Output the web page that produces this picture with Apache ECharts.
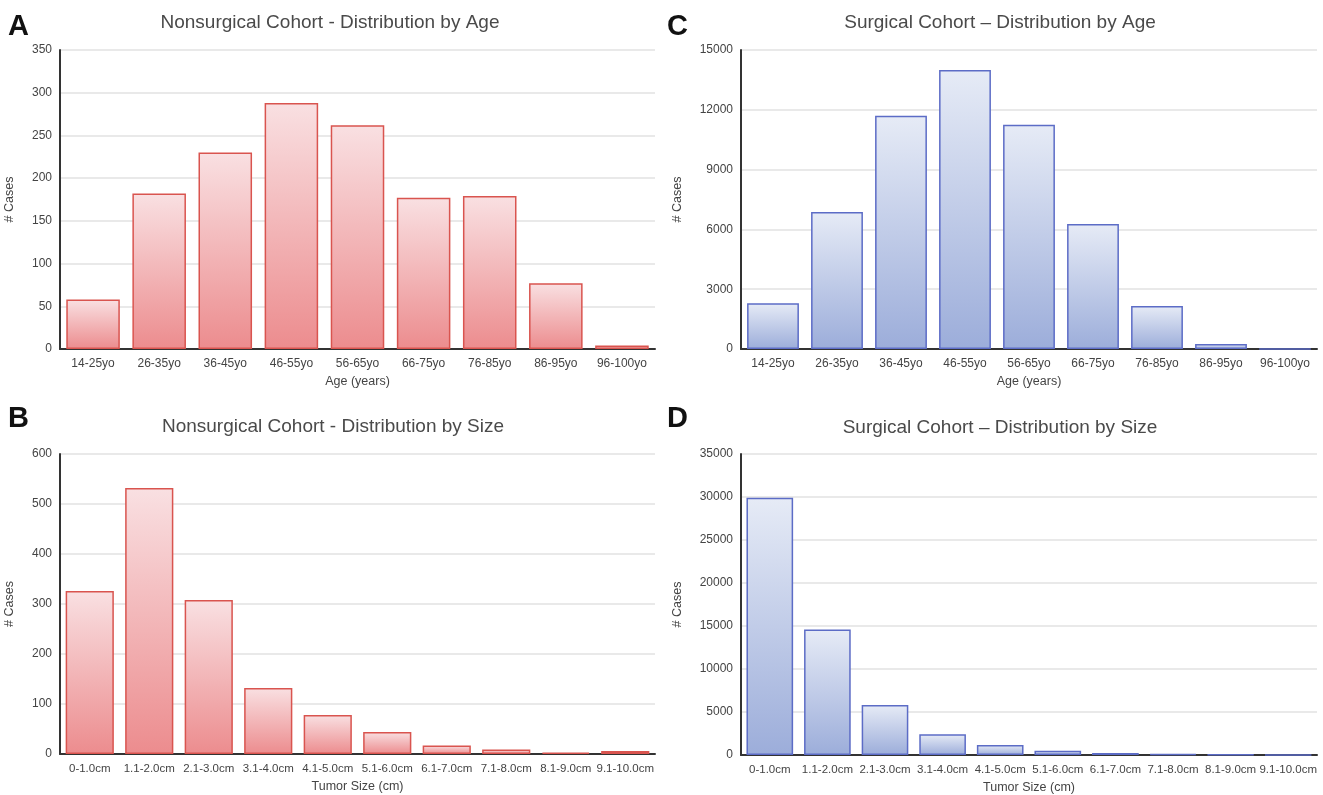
<!DOCTYPE html>
<html><head><meta charset="utf-8">
<script src="https://cdn.jsdelivr.net/npm/echarts@6/dist/echarts.min.js"></script>
<style>html,body{margin:0;padding:0;background:#fff}#c{width:1323px;height:795px}</style>
</head><body><div id="c"></div>
<script>
const ageCategories = ['14-25yo','26-35yo','36-45yo','46-55yo','56-65yo','66-75yo','76-85yo','86-95yo','96-100yo'];
const sizeCategories = ['0-1.0cm','1.1-2.0cm','2.1-3.0cm','3.1-4.0cm','4.1-5.0cm','5.1-6.0cm','6.1-7.0cm','7.1-8.0cm','8.1-9.0cm','9.1-10.0cm'];
const nonsurgicalAge = [58, 182, 230, 288, 262, 177, 179, 77, 4];
const surgicalAge = [2300, 6870, 11700, 14000, 11250, 6270, 2160, 250, 10];
const nonsurgicalSize = [326, 532, 308, 132, 78, 44, 17, 9, 3, 6];
const surgicalSize = [29900, 14600, 5800, 2400, 1150, 480, 230, 100, 40, 25];
const panelTitles = ['Nonsurgical Cohort - Distribution by Age','Surgical Cohort \u2013 Distribution by Age','Nonsurgical Cohort - Distribution by Size','Surgical Cohort \u2013 Distribution by Size'];
const panelLetters = ['A','C','B','D'];

const FONT = '"Liberation Sans", Arial, sans-serif';
const red = {top:'#f9e0e2', bottom:'#ec8c8e', border:'#d9544f'};
const blue = {top:'#e6ebf6', bottom:'#9cadda', border:'#5c6cc6'};

const grids = [
  {left:60, right:668, top:50, bottom:446},
  {left:741, right:6, top:50, bottom:446},
  {left:60, right:668, top:454, bottom:41},
  {left:741, right:6, top:454, bottom:40}
];
const yMax = [350, 15000, 600, 35000];
const yInt = [50, 3000, 100, 5000];
const cats = [ageCategories, ageCategories, sizeCategories, sizeCategories];
const vals = [nonsurgicalAge, surgicalAge, nonsurgicalSize, surgicalSize];
const xNames = ['Age (years)','Age (years)','Tumor Size (cm)','Tumor Size (cm)'];
const pal = [red, blue, red, blue];
const titlePos = [{x:325,y:8},{x:995,y:8},{x:328,y:412},{x:995,y:413}];
const letterPos = [{x:8,y:12},{x:667,y:12},{x:8,y:404},{x:667,y:404}];
const yNameGap = [44, 57, 44, 57];

const option = {
  backgroundColor:'#fff',
  animation:false,
  title: panelTitles.map((t,i)=>({text:t, left:titlePos[i].x, top:titlePos[i].y, textAlign:'center',
     textStyle:{fontFamily:FONT, fontSize:19, fontWeight:'normal', color:'#4a4a4a'}})),
  graphic: panelLetters.map((l,i)=>({type:'text', left:letterPos[i].x, top:letterPos[i].y,
     style:{text:l, font:'bold 29px "Liberation Sans", Arial, sans-serif', fill:'#111'}})),
  grid: grids,
  xAxis: cats.map((c,i)=>({type:'category', gridIndex:i, data:c, name:xNames[i], nameLocation:'middle', nameGap:26,
     nameTextStyle:{fontFamily:FONT, fontSize:12.5, color:'#444'},
     axisLine:{lineStyle:{color:'#333', width:2}}, axisTick:{show:false},
     axisLabel:{fontFamily:FONT, fontSize:i<2?12:11.5, color:'#444', margin:9, interval:0}})),
  yAxis: yMax.map((m,i)=>({type:'value', gridIndex:i, min:0, max:m, interval:yInt[i], name:'# Cases', nameLocation:'middle', nameGap:yNameGap[i],
     nameTextStyle:{fontFamily:FONT, fontSize:12.5, color:'#444'},
     axisLine:{show:true, lineStyle:{color:'#333', width:2}}, axisTick:{show:false},
     splitLine:{lineStyle:{color:'#e2e2e2', width:1.5}},
     axisLabel:{fontFamily:FONT, fontSize:12, color:'#444', margin:8, formatter:(v)=>String(v)}})),
  series: vals.map((v,i)=>({type:'bar', xAxisIndex:i, yAxisIndex:i, data:v, barCategoryGap:'19%',
     itemStyle:{borderColor:pal[i].border, borderWidth:1.5,
        color:{type:'linear', x:0, y:0, x2:0, y2:1, colorStops:[{offset:0,color:pal[i].top},{offset:1,color:pal[i].bottom}]}}}))
};
const chart = echarts.init(document.getElementById('c'), null, {renderer:'canvas'});
chart.setOption(option);
</script></body></html>
